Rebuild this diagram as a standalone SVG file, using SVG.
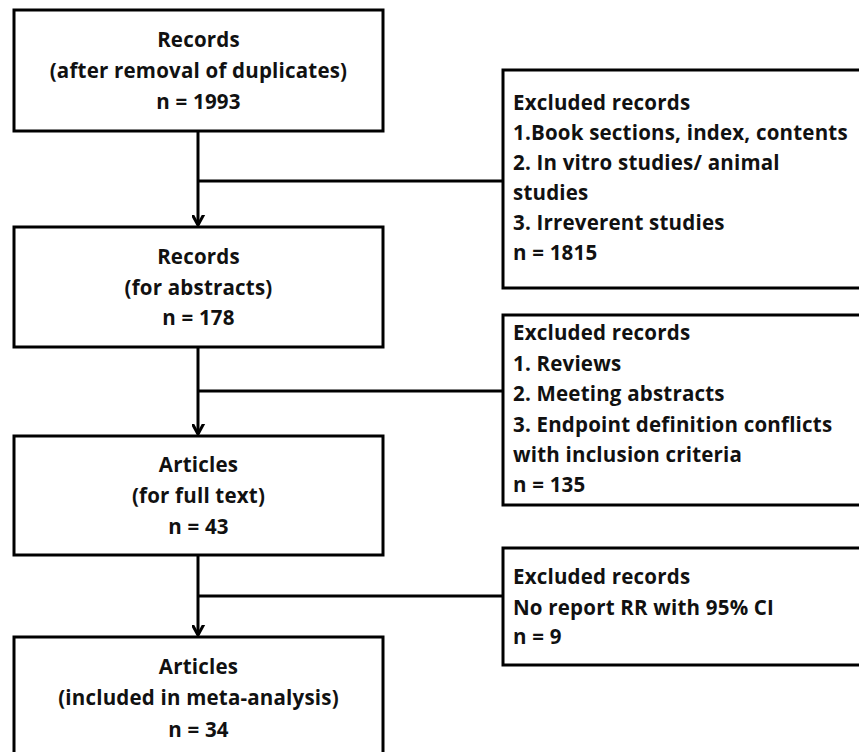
<svg xmlns="http://www.w3.org/2000/svg" width="859" height="752" viewBox="0 0 859 752">
<defs>
<style>
.box{fill:#fff;stroke:#000;stroke-width:3}
.c{fill:none;stroke:#000;stroke-width:3}
.t{font-family:"Open Sans","Liberation Sans",sans-serif;font-weight:bold;font-size:20.5px;letter-spacing:0.2px;fill:#111}
.m{text-anchor:middle}
</style>
<marker id="arr" markerUnits="userSpaceOnUse" markerWidth="20" markerHeight="20" viewBox="-10 -14 20 20" refX="0" refY="0" orient="auto-start-reverse">
<path d="M-11,-6 L0,0 L-11,6" fill="none" stroke="#000" stroke-width="3"/>
</marker>
</defs>
<rect width="859" height="752" fill="#fff"/>
<g id="connectors">
<line class="c" x1="198" y1="131" x2="198" y2="225" marker-end="url(#arr)"/>
<line class="c" x1="198" y1="181" x2="503" y2="181"/>
<line class="c" x1="198" y1="347" x2="198" y2="434" marker-end="url(#arr)"/>
<line class="c" x1="198" y1="391" x2="503" y2="391"/>
<line class="c" x1="198" y1="555" x2="198" y2="635" marker-end="url(#arr)"/>
<line class="c" x1="198" y1="596" x2="503" y2="596"/>
</g>
<g id="n1">
<rect class="box" x="14" y="10" width="369" height="121"/>
<text class="t m" x="198.5" y="47">Records</text>
<text class="t m" x="198.5" y="78">(after removal of duplicates)</text>
<text class="t m" x="198.5" y="109">n = 1993</text>
</g>
<g id="n2">
<rect class="box" x="14" y="227" width="369" height="120"/>
<text class="t m" x="198.5" y="264">Records</text>
<text class="t m" x="198.5" y="295">(for abstracts)</text>
<text class="t m" x="198.5" y="325">n = 178</text>
</g>
<g id="n3">
<rect class="box" x="14" y="436" width="369" height="119"/>
<text class="t m" x="198.5" y="472">Articles</text>
<text class="t m" x="198.5" y="503">(for full text)</text>
<text class="t m" x="198.5" y="534">n = 43</text>
</g>
<g id="n4">
<rect class="box" x="14" y="637" width="369" height="125"/>
<text class="t m" x="198.5" y="674">Articles</text>
<text class="t m" x="198.5" y="705">(included in meta-analysis)</text>
<text class="t m" x="198.5" y="737">n = 34</text>
</g>
<g id="e1">
<rect class="box" x="503" y="70" width="360" height="218"/>
<text class="t" x="513" y="110">Excluded records</text>
<text class="t" x="513" y="140">1.Book sections, index, contents</text>
<text class="t" x="513" y="170">2. In vitro studies/ animal</text>
<text class="t" x="513" y="200">studies</text>
<text class="t" x="513" y="230">3. Irreverent studies</text>
<text class="t" x="513" y="260">n = 1815</text>
</g>
<g id="e2">
<rect class="box" x="503" y="315" width="360" height="190"/>
<text class="t" x="513" y="340">Excluded records</text>
<text class="t" x="513" y="371">1. Reviews</text>
<text class="t" x="513" y="401">2. Meeting abstracts</text>
<text class="t" x="513" y="432">3. Endpoint definition conflicts</text>
<text class="t" x="513" y="462">with inclusion criteria</text>
<text class="t" x="513" y="492">n = 135</text>
</g>
<g id="e3">
<rect class="box" x="503" y="548" width="360" height="117"/>
<text class="t" x="513" y="584">Excluded records</text>
<text class="t" x="513" y="615">No report RR with 95% CI</text>
<text class="t" x="513" y="644">n = 9</text>
</g>
</svg>
